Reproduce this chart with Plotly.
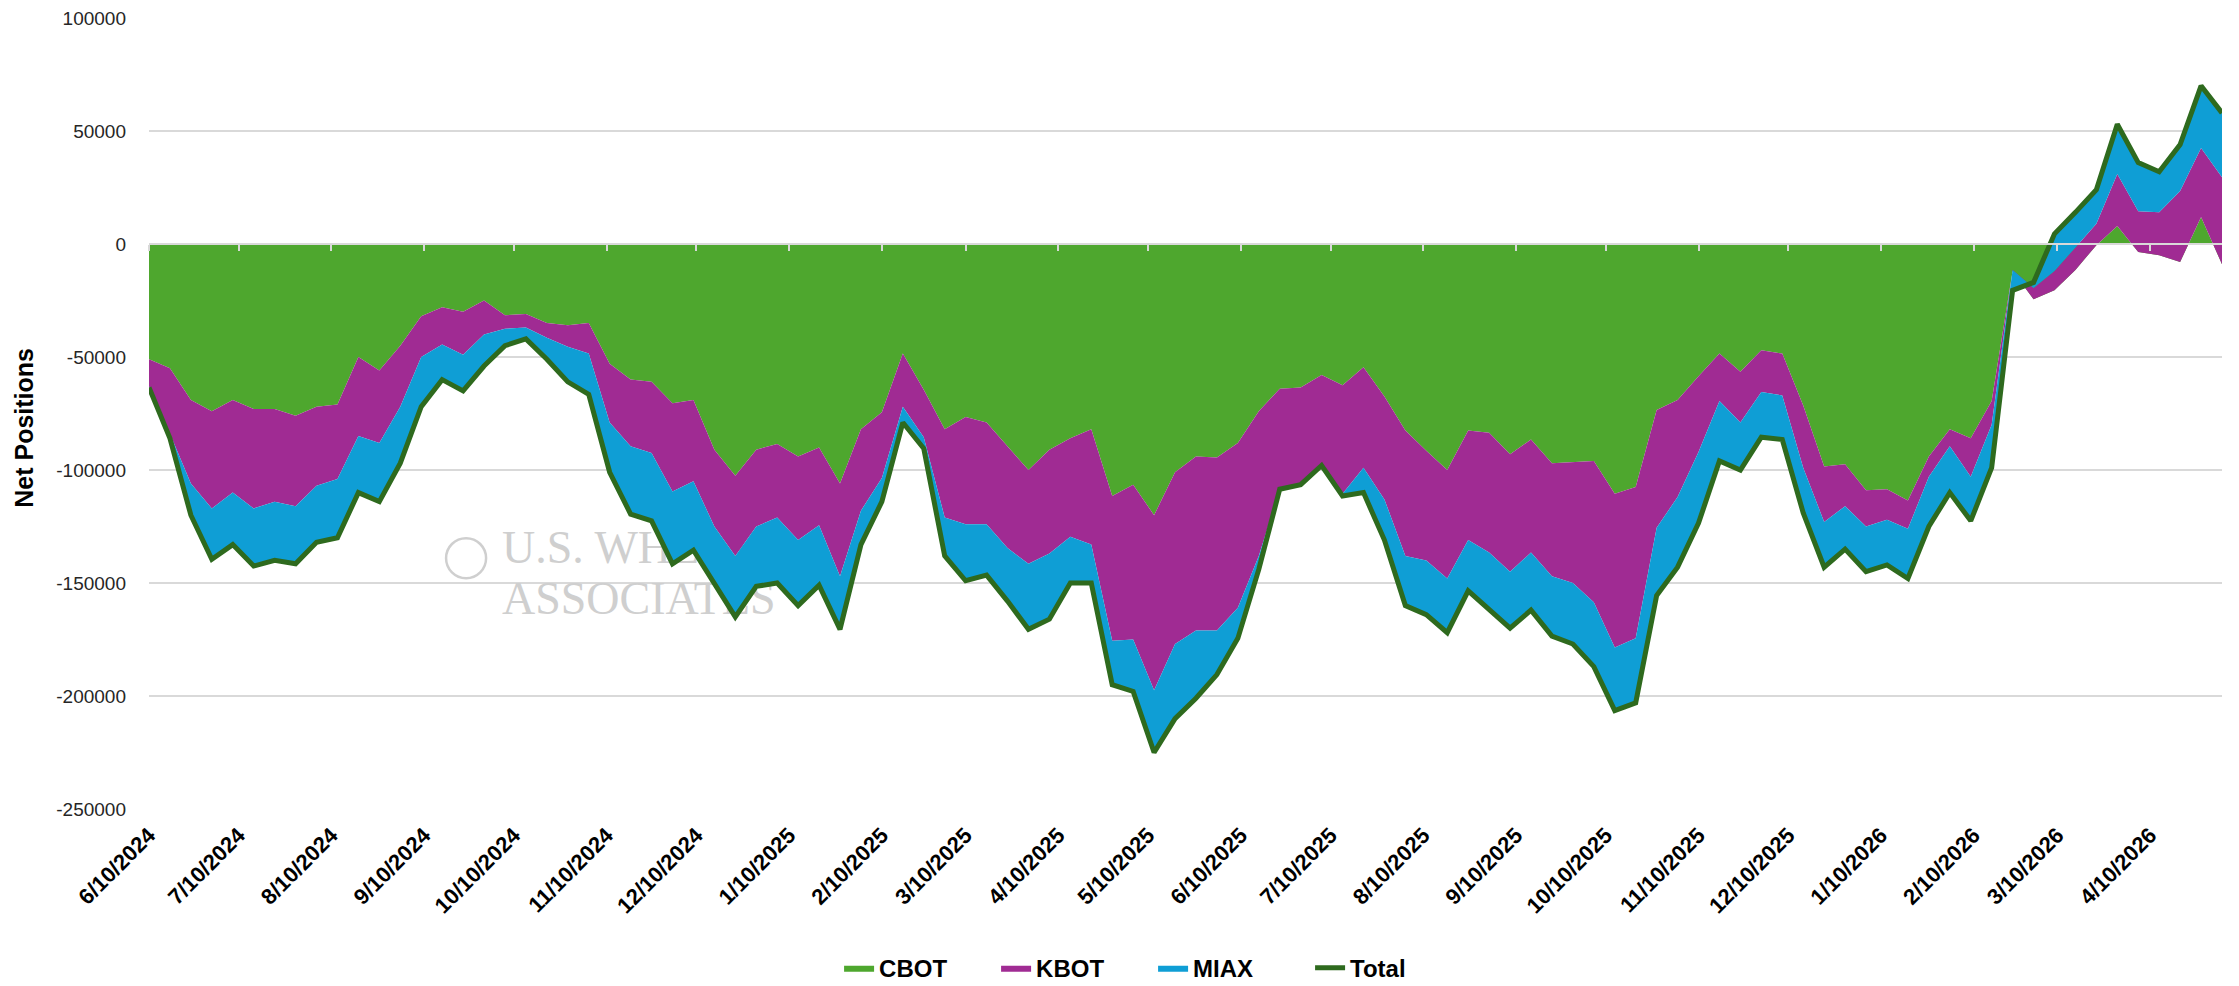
import plotly.graph_objects as go
import pandas as pd

# weekly net positions (contracts)
cbot = [-51000, -55000, -69000, -74000, -69000, -73000, -73000, -76000, -72000, -71000,
        -50000, -56000, -45000, -32000, -28000, -30000, -25000, -31500, -31000, -35000,
        -36000, -35000, -53000, -60000, -61000, -70500, -69000, -91000, -102500, -91000,
        -88500, -94000, -90000, -106000, -82000, -74500, -48500, -64500, -82000, -76500,
        -79000, -89500, -100000, -91000, -86000, -82000, -111500, -106500, -120000, -101000,
        -94000, -94500, -88000, -74000, -64000, -63500, -58000, -62500, -54500, -67500,
        -82500, -91500, -100000, -82500, -83500, -93000, -86500, -97000, -96500, -96000,
        -110500, -107500, -73500, -69000, -58500, -48500, -56500, -47000, -48500, -71500,
        -98500, -97500, -109000, -108500, -113500, -94000, -82000, -86000, -69500, -12000,
        -24500, -20500, -11500, -500, 8000, -3500, -5000, -8000, 12000, -9000]

kbot = [-12000, -29000, -37000, -43000, -41000, -44000, -41000, -40000, -35000, -33000,
        -35000, -32000, -27000, -18000, -16500, -19000, -15000, -6000, -6000, -6500,
        -9500, -13500, -26000, -29500, -31500, -39000, -36000, -34000, -35500, -34000,
        -32500, -37000, -34500, -41000, -36000, -29000, -23500, -21000, -39000, -47500,
        -45000, -45000, -41500, -46000, -43500, -51000, -64000, -68500, -77500, -76000,
        -77000, -76500, -73000, -64000, -44500, -43000, -40000, -48000, -44500, -45500,
        -55500, -48500, -48000, -48500, -53000, -52000, -50000, -50000, -53500, -62500,
        -68000, -67000, -52000, -43000, -33500, -21000, -22500, -18500, -18500, -27500,
        -24500, -18500, -16000, -13500, -12500, -9000, -7500, -17000, -10500, 500,
        5000, 8500, 10000, 9500, 23000, 18000, 19000, 31500, 30500, 38500]

miax = [-500, -2000, -14000, -22500, -23000, -25500, -26000, -25500, -25000, -26000,
        -25000, -26000, -25000, -22000, -15500, -16000, -14000, -7500, -5000, -9500,
        -15500, -18000, -22000, -30000, -30000, -32000, -30500, -25000, -27000, -26500,
        -29000, -29000, -26500, -23500, -15000, -10500, -7000, -5000, -17000, -25000,
        -22500, -23500, -29000, -29000, -20500, -17000, -19500, -23000, -27500, -33000,
        -30000, -19500, -13500, -6000, 0, 0, 0, -1000, -11000, -18000,
        -22000, -24000, -24000, -22500, -25000, -25000, -25500, -26500, -27000, -28500,
        -28000, -28500, -30000, -31000, -31500, -26500, -21000, -20000, -19500, -20000,
        -20000, -19000, -20000, -20000, -22000, -22000, -20500, -19500, -19000, -9000,
        2500, 16500, 15500, 15000, 22000, 21500, 18000, 20500, 27500, 28500]

total = [-63500, -86000, -120000, -139500, -133000, -142500, -140000, -141500, -132000, -130000,
         -110000, -114000, -97000, -72000, -60000, -65000, -54000, -45000, -42000, -51000,
         -61000, -66500, -101000, -119500, -122500, -141500, -135500, -150000, -165000, -151500,
         -150000, -160000, -151000, -170500, -133000, -114000, -79000, -90500, -138000, -149000,
         -146500, -158000, -170500, -166000, -150000, -150000, -195000, -198000, -225000, -210000,
         -201000, -190500, -174500, -144000, -108500, -106500, -98000, -111500, -110000, -131000,
         -160000, -164000, -172000, -153500, -161500, -170000, -162000, -173500, -177000, -187000,
         -206500, -203000, -155500, -143000, -123500, -96000, -100000, -85500, -86500, -119000,
         -143000, -135000, -145000, -142000, -148000, -125000, -110000, -122500, -99000, -20500,
         -17000, 4500, 14000, 24000, 53000, 36000, 32000, 44000, 70000, 58000]

dates = pd.date_range("2024-06-10", periods=len(total), freq="7D")

tick_labels = ["6/10/2024", "7/10/2024", "8/10/2024", "9/10/2024", "10/10/2024",
               "11/10/2024", "12/10/2024", "1/10/2025", "2/10/2025", "3/10/2025",
               "4/10/2025", "5/10/2025", "6/10/2025", "7/10/2025", "8/10/2025",
               "9/10/2025", "10/10/2025", "11/10/2025", "12/10/2025", "1/10/2026",
               "2/10/2026", "3/10/2026", "4/10/2026"]
tick_dates = pd.to_datetime(tick_labels, format="%m/%d/%Y")

y_ticks = [100000, 50000, 0, -50000, -100000, -150000, -200000, -250000]

FONT = "Liberation Sans, Arial, sans-serif"
GRID = "#D9D9D9"
x_range = [str(dates[0].date()), str(dates[-1].date())]

fig = go.Figure()

# watermark, added first so the areas cover it
fig.add_trace(go.Scatter(
    x=["2024-09-24"], y=[-139000], mode="markers", showlegend=False, hoverinfo="skip",
    marker=dict(symbol="circle-open", size=40, color="#cfcfcf", line=dict(width=2.5)),
))
fig.add_trace(go.Scatter(
    x=["2024-10-06", "2024-10-06"], y=[-136000, -158500], text=["U.S. WHEAT", "ASSOCIATES"],
    mode="text", textposition="middle right", showlegend=False, hoverinfo="skip",
    textfont=dict(family="Liberation Serif, Times New Roman, serif", size=46, color="#cfcfcf"),
))

for name, vals, color in [("CBOT", cbot, "#4EA72E"), ("KBOT", kbot, "#A02B93"), ("MIAX", miax, "#0F9ED5")]:
    fig.add_trace(go.Scatter(
        x=dates, y=vals, name=name, stackgroup="net", mode="lines",
        line=dict(width=0, color=color), fillcolor=color,
    ))

fig.add_trace(go.Scatter(x=dates, y=total, name="Total", mode="lines",
                         line=dict(color="#2E6A1E", width=5)))

# helper trace so the zero-line axis (with month ticks) gets drawn
fig.add_trace(go.Scatter(x=[dates[0]], y=[None], xaxis="x2", showlegend=False, hoverinfo="skip"))

fig.update_layout(
    width=2239, height=986,
    margin=dict(l=149, r=17, t=18, b=177, autoexpand=False),
    plot_bgcolor="white", paper_bgcolor="white",
    font=dict(family=FONT, color="#262626"),
    xaxis=dict(
        type="date", range=x_range, tickvals=tick_dates, ticktext=tick_labels,
        tickangle=-45, ticks="", showgrid=False, zeroline=False, showline=False,
        tickfont=dict(family=FONT, size=22, color="black", weight="bold"),
        ticklabelstandoff=8, automargin=False,
    ),
    xaxis2=dict(
        type="date", range=x_range, overlaying="x", anchor="free",
        position=250000 / 350000, tickvals=tick_dates, showticklabels=False,
        ticks="outside", ticklen=6, tickwidth=2, tickcolor=GRID, automargin=False,
        showline=True, linecolor=GRID, linewidth=2, showgrid=False, zeroline=False,
    ),
    yaxis=dict(
        range=[-250000, 100000], tickvals=y_ticks, ticktext=[str(v) for v in y_ticks],
        showgrid=True, gridcolor=GRID, gridwidth=1.5, zeroline=False, ticks="",
        tickfont=dict(family=FONT, size=19, color="#262626"), ticklabelstandoff=22,
        automargin=False,
    ),
    legend=dict(
        orientation="h", x=0.515, xanchor="center", xref="container",
        y=0.018, yanchor="middle", yref="container",
        traceorder="normal",
        font=dict(family=FONT, size=24, color="black", weight="bold"),
        entrywidth=112, entrywidthmode="pixels",
    ),
    annotations=[dict(
        text="Net Positions", textangle=-90, xref="paper", yref="paper",
        x=-0.0603, y=0.482, xanchor="center", yanchor="middle", showarrow=False,
        font=dict(family=FONT, size=25, color="black", weight="bold"),
    )],
)

fig.write_html("out.html", config={"displayModeBar": False},
               post_script="document.body.style.margin='0';")
